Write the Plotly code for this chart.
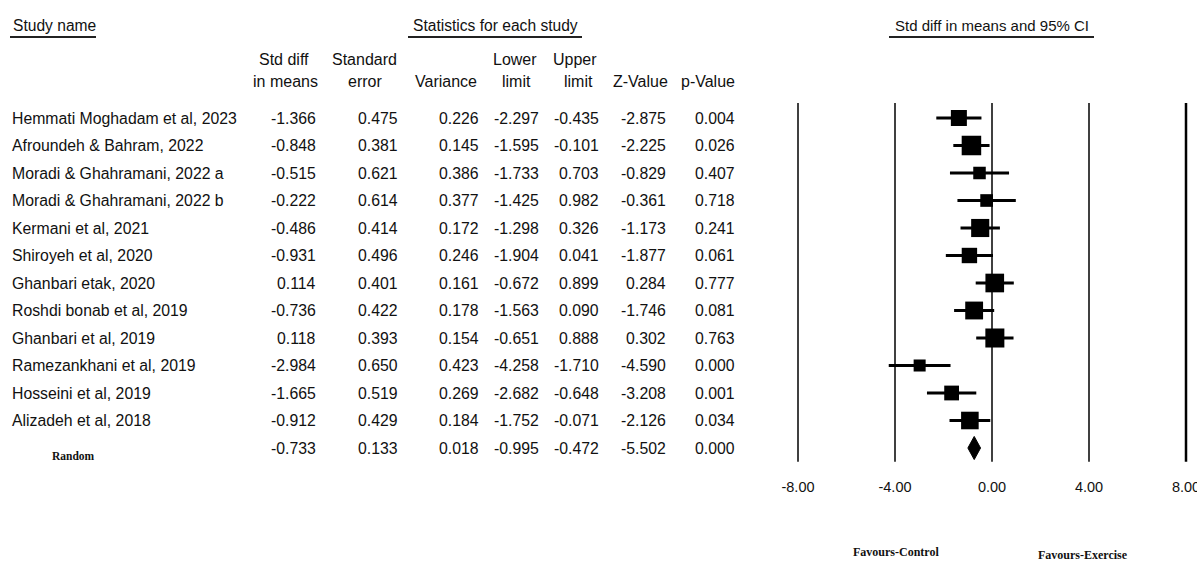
import plotly.graph_objects as go

# ---------------- data ----------------
studies = [
    "Hemmati Moghadam et al, 2023",
    "Afroundeh & Bahram, 2022",
    "Moradi & Ghahramani, 2022 a",
    "Moradi & Ghahramani, 2022 b",
    "Kermani et al, 2021",
    "Shiroyeh et al, 2020",
    "Ghanbari etak, 2020",
    "Roshdi bonab et al, 2019",
    "Ghanbari et al, 2019",
    "Ramezankhani et al, 2019",
    "Hosseini et al, 2019",
    "Alizadeh et al, 2018",
]
smd = [-1.366, -0.848, -0.515, -0.222, -0.486, -0.931, 0.114, -0.736, 0.118, -2.984, -1.665, -0.912]
std_err = [0.475, 0.381, 0.621, 0.614, 0.414, 0.496, 0.401, 0.422, 0.393, 0.650, 0.519, 0.429]
variance = [0.226, 0.145, 0.386, 0.377, 0.172, 0.246, 0.161, 0.178, 0.154, 0.423, 0.269, 0.184]
lower = [-2.297, -1.595, -1.733, -1.425, -1.298, -1.904, -0.672, -1.563, -0.651, -4.258, -2.682, -1.752]
upper = [-0.435, -0.101, 0.703, 0.982, 0.326, 0.041, 0.899, 0.090, 0.888, -1.710, -0.648, -0.071]
z_value = [-2.875, -2.225, -0.829, -0.361, -1.173, -1.877, 0.284, -1.746, 0.302, -4.590, -3.208, -2.126]
p_value = [0.004, 0.026, 0.407, 0.718, 0.241, 0.061, 0.777, 0.081, 0.763, 0.000, 0.001, 0.034]

pooled_label = "Random"
pooled_smd = -0.733
pooled_se = 0.133
pooled_var = 0.018
pooled_lower = -0.995
pooled_upper = -0.472
pooled_z = -5.502
pooled_p = 0.000

tick_values = [-8, -4, 0, 4, 8]
tick_labels = ["-8.00", "-4.00", "0.00", "4.00", "8.00"]

# ---------------- layout helpers ----------------
W, H = 1197, 562
ROW0, ROWH = 118, 27.5
PX_PER_UNIT = 24.25          # horizontal scale of the forest panel
X_LEFT_PX, X_RIGHT_PX = 780, 1197
X_ZERO_PX = 992


def px(x):
    return x / W


def py(y):
    return 1 - y / H


FONT = "Liberation Sans, Arial, sans-serif"
SERIF = "Liberation Serif, Times New Roman, serif"
FS = 15.8

n = len(studies)
rows = [-i for i in range(n)]
pool_row = -n

fig = go.Figure()

# CI lines
cx, cy = [], []
for lo, hi, r in zip(lower, upper, rows):
    cx += [lo, hi, None]
    cy += [r, r, None]
fig.add_trace(go.Scatter(x=cx, y=cy, mode="lines", line=dict(color="black", width=3),
                         hoverinfo="skip", showlegend=False))

# squares sized by (random-effects style) weight
sizes = [5.4 + 3.46 / (v + 0.1) for v in variance]
fig.add_trace(go.Scatter(x=smd, y=rows, mode="markers",
                         marker=dict(symbol="square", size=sizes, color="black", opacity=1,
                                     line=dict(width=0)),
                         showlegend=False))

# pooled diamond
dh = 0.42
fig.add_trace(go.Scatter(
    x=[pooled_lower, pooled_smd, pooled_upper, pooled_smd, pooled_lower],
    y=[pool_row, pool_row + dh, pool_row, pool_row - dh, pool_row],
    mode="lines", fill="toself", fillcolor="black", line=dict(color="black", width=1),
    showlegend=False, hoverinfo="skip"))

# vertical reference lines
shapes = []
for tv in tick_values:
    shapes.append(dict(type="line", xref="x", yref="y", x0=tv, x1=tv, y0=pool_row - 0.5, y1=0.55,
                       line=dict(color="black", width=2.5 if tv == tick_values[-1] else 1.5)))

# header underlines
for x0, x1 in [(10, 96), (408, 582), (889, 1094)]:
    shapes.append(dict(type="line", xref="paper", yref="paper", x0=px(x0), x1=px(x1),
                       y0=py(37), y1=py(37), line=dict(color="#222", width=2)))

ann = []


def add_text(text, x, y, xanchor="left", yref="paper", size=FS, family=FONT, yshift=0):
    ann.append(dict(text=text, x=px(x), y=(py(y) if yref == "paper" else y), xref="paper", yref=yref,
                    xanchor=xanchor, yanchor="middle", showarrow=False, yshift=yshift,
                    font=dict(family=family, size=size, color="#111")))


# headers
add_text("Study name", 11, 25, size=15.6)
add_text("Statistics for each study", 411, 25, size=15.6)
add_text("Std diff in means and 95% CI", 893, 25, size=15)
HS = 16
add_text("Std diff", 284, 60, "center", size=HS)
add_text("in means", 285, 82, "center", size=HS)
add_text("Standard", 364, 60, "center", size=HS)
add_text("error", 365, 82, "center", size=HS)
add_text("Variance", 446, 82, "center", size=HS)
add_text("Lower", 515, 60, "center", size=HS)
add_text("limit", 516, 82, "center", size=HS)
add_text("Upper", 575, 60, "center", size=HS)
add_text("limit", 578, 82, "center", size=HS)
add_text("Z-Value", 640, 82, "center", size=HS)
add_text("p-Value", 708, 82, "center", size=HS)

col_right = [318, 400, 481, 541, 601, 668, 737]
columns = [smd, std_err, variance, lower, upper, z_value, p_value]

for i, r in enumerate(rows):
    add_text(studies[i], 10, r, yref="y")
    for col, xr in zip(columns, col_right):
        add_text(f"{col[i]:.3f}", xr, r, "right", yref="y")

pooled_vals = [pooled_smd, pooled_se, pooled_var, pooled_lower, pooled_upper, pooled_z, pooled_p]
for v, xr in zip(pooled_vals, col_right):
    add_text(f"{v:.3f}", xr, pool_row, "right", yref="y")
add_text("<b>" + pooled_label + "</b>", 50, pool_row, yref="y", size=11.5, family=SERIF, yshift=-8)

add_text("<b>Favours-Control</b>", 896, 552, "center", size=12, family=SERIF)
add_text("<b>Favours-Exercise</b>", 1083, 555, "center", size=12, family=SERIF)

x_range = [(X_LEFT_PX - X_ZERO_PX) / PX_PER_UNIT, (X_RIGHT_PX - X_ZERO_PX) / PX_PER_UNIT]

fig.update_layout(
    width=W, height=H,
    margin=dict(l=0, r=0, t=0, b=0, pad=0, autoexpand=False),
    paper_bgcolor="white", plot_bgcolor="white",
    showlegend=False,
    shapes=shapes,
    annotations=ann,
    xaxis=dict(domain=[px(X_LEFT_PX), px(X_RIGHT_PX)], range=x_range,
               tickvals=tick_values, ticktext=tick_labels,
               showgrid=False, zeroline=False, showline=False, ticks="",
               anchor="free", position=py(476), automargin=False, ticklabeloverflow="allow",
               tickfont=dict(family=FONT, size=14.5, color="#111"), fixedrange=True),
    yaxis=dict(domain=[0, 1], range=[-(H - ROW0) / ROWH, ROW0 / ROWH], visible=False,
               fixedrange=True, automargin=False),
)

fig.write_html(
    "out.html",
    config={"displayModeBar": False},
    post_script="document.documentElement.style.overflow='hidden';"
                "document.body.style.margin='0';document.body.style.overflow='hidden';",
)
